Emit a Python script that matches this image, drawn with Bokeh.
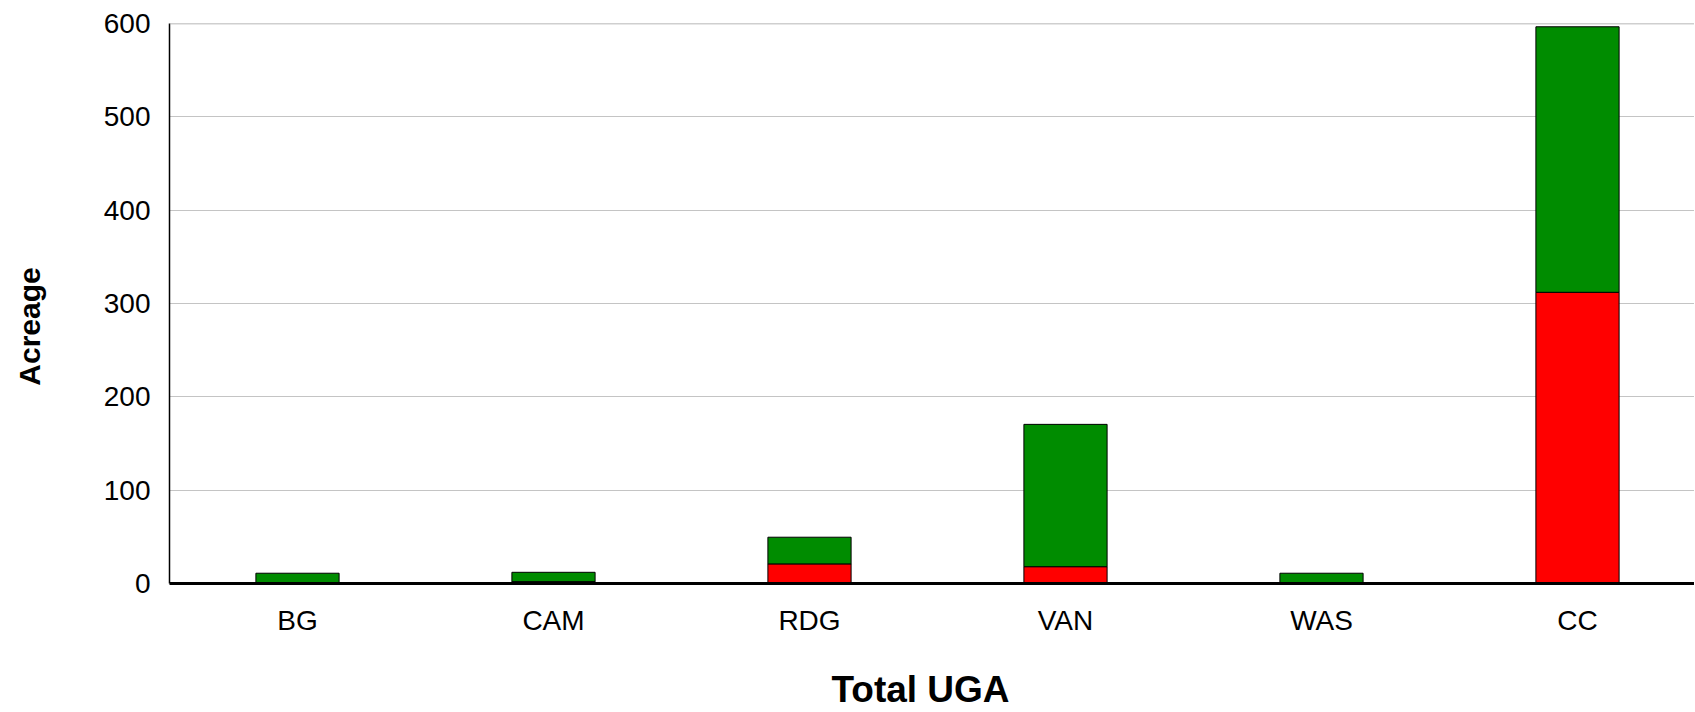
from bokeh.plotting import figure
from bokeh.models import Range1d, FixedTicker, Label, Span, ColumnDataSource
from bokeh.embed import file_html
from bokeh.resources import INLINE

categories = ["BG", "CAM", "RDG", "VAN", "WAS", "CC"]
red_values = [0, 2, 21, 18, 0, 312]
green_values = [11, 10, 28.6, 152.5, 11, 284.5]
y_ticks = [0, 100, 200, 300, 400, 500, 600]

xpos = [i + 0.5 for i in range(len(categories))]
red_top = red_values
green_top = [r + g for r, g in zip(red_values, green_values)]

FONT = "Liberation Sans"
W, H = 1694, 712
LEFT, TOP, BOTTOM_Y = 169, 23, 583
unit_px = 256.0

p = figure(width=W, height=H, output_backend="svg", toolbar_location=None,
           x_range=Range1d(0, (W - LEFT) / unit_px), y_range=Range1d(0, 600),
           min_border_left=LEFT, min_border_right=0, min_border_top=TOP,
           min_border_bottom=H - BOTTOM_Y)
p.outline_line_color = None
p.background_fill_color = "white"
p.border_fill_color = "white"

src = ColumnDataSource(dict(x=xpos, red=red_top, green=green_top))
p.vbar(x="x", bottom=0, top="red", width=0.325, source=src,
       fill_color="#FF0000", line_color="black", line_width=1)
p.vbar(x="x", bottom="red", top="green", width=0.325, source=src,
       fill_color="#008C00", line_color="black", line_width=1)

# grid
p.xgrid.grid_line_color = None
p.ygrid.ticker = FixedTicker(ticks=y_ticks)
p.ygrid.grid_line_color = "#c4c4c4"
p.ygrid.grid_line_width = 1
p.add_layout(Span(location=600, dimension="width", line_color="#a0a0a0", line_width=1.5))

# y axis
p.yaxis.ticker = FixedTicker(ticks=y_ticks)
p.yaxis.major_tick_out = 0
p.yaxis.major_tick_in = 0
p.yaxis.minor_tick_out = 0
p.yaxis.minor_tick_in = 0
p.yaxis.major_label_standoff = 19
p.yaxis.axis_line_color = "black"
p.yaxis.axis_line_width = 1.5
p.yaxis.major_label_text_font = FONT
p.yaxis.major_label_text_font_size = "28px"
p.yaxis.major_label_text_color = "black"

# x axis
p.xaxis.ticker = FixedTicker(ticks=xpos)
p.xaxis.major_label_overrides = {x: c for x, c in zip(xpos, categories)}
p.xaxis.major_tick_out = 0
p.xaxis.major_tick_in = 0
p.xaxis.minor_tick_out = 0
p.xaxis.minor_tick_in = 0
p.xaxis.major_label_standoff = 21
p.xaxis.axis_line_color = "black"
p.xaxis.axis_line_width = 3
p.xaxis.major_label_text_font = FONT
p.xaxis.major_label_text_font_size = "28px"
p.xaxis.major_label_text_color = "black"

# titles placed in the side panels
p.add_layout(Label(x=751, y=-10, x_units="screen", y_units="screen", text="Total UGA",
                   text_font=FONT, text_font_size="37px", text_font_style="bold",
                   text_align="center", text_baseline="alphabetic", text_color="black"),
             "below")
p.add_layout(Label(x=-38, y=257, x_units="screen", y_units="screen", text="Acreage",
                   angle=1.5707963, text_font=FONT, text_font_size="30px",
                   text_font_style="bold", text_align="center",
                   text_baseline="alphabetic", text_color="black"), "left")

open("out.html", "w").write(file_html(p, INLINE))
